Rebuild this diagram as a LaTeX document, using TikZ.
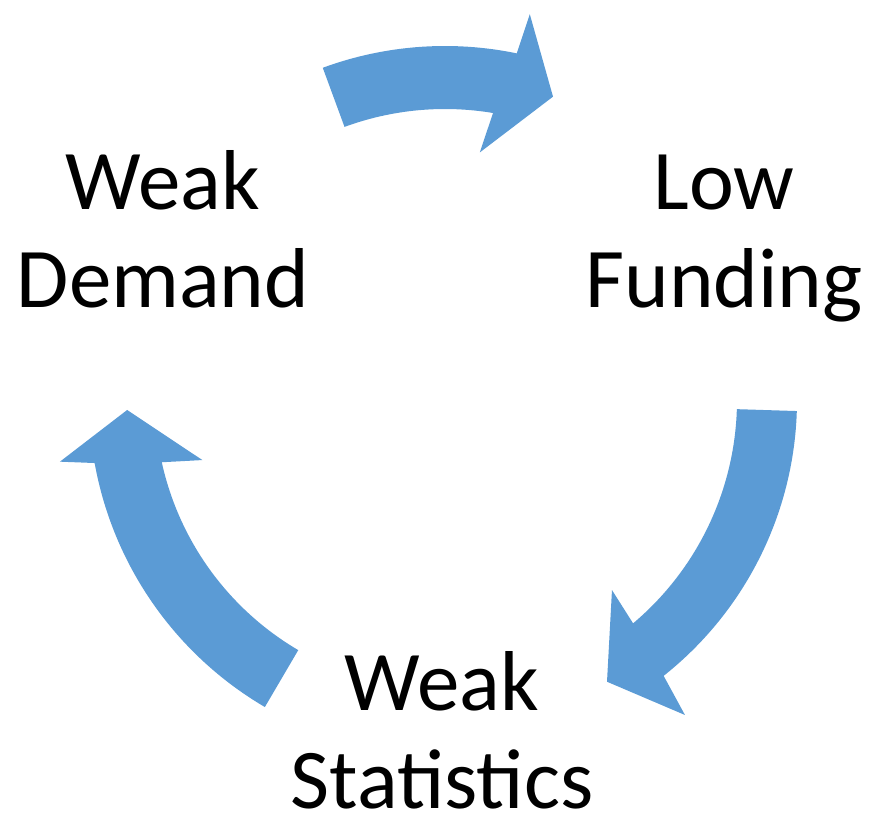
\documentclass[tikz,border=0pt]{standalone}
\usepackage{fontspec}
\setmainfont{Carlito}
\definecolor{cycblue}{HTML}{5B9BD5}
\tikzset{
  arrowfill/.style={fill=cycblue, draw=none},
  label/.style={inner sep=0pt, anchor=base, font=\fontsize{85}{98}\selectfont, text=black}
}
\begin{document}
\begin{tikzpicture}[x=1pt,y=1pt]
\useasboundingbox (0,0) rectangle (870,812);
\coordinate (C) at (445,412);
\begin{scope}[shift={(C)}]
  % top arrow: Weak Demand -> Low Funding
  \fill[arrowfill] (110.2:354) arc[start angle=110.2, end angle=78.3, radius=354]
    -- (77.6:395) -- (70.4:322) -- (82:250) -- (80.5:291)
    arc[start angle=80.5, end angle=110.2, radius=291] -- cycle;
  % right arrow: Low Funding -> Weak Statistics
  \fill[arrowfill] (-1.8:352) arc[start angle=-1.8, end angle=-51.6, radius=352]
    -- (-52.7:396) -- (-60.1:325) -- (-48.7:253) -- (-49.9:292)
    arc[start angle=-49.9, end angle=-1.8, radius=292] -- cycle;
  % left arrow: Weak Statistics -> Weak Demand
  \fill[arrowfill] (239.6:356) arc[start angle=239.6, end angle=190.2, radius=356]
    -- (189.1:390) -- (181.8:318) -- (193.9:250) -- (192.4:290)
    arc[start angle=192.4, end angle=239.6, radius=290] -- cycle;
\end{scope}
\node[label] (demand) at (163,602) {\begin{tabular}[t]{@{}c@{}}Weak\\Demand\end{tabular}};
\node[label] (funding) at (724,602) {\begin{tabular}[t]{@{}c@{}}Low\\Funding\end{tabular}};
\node[label] (stats) at (442,102) {\begin{tabular}[t]{@{}c@{}}Weak\\Statistics\end{tabular}};
\end{tikzpicture}
\end{document}
